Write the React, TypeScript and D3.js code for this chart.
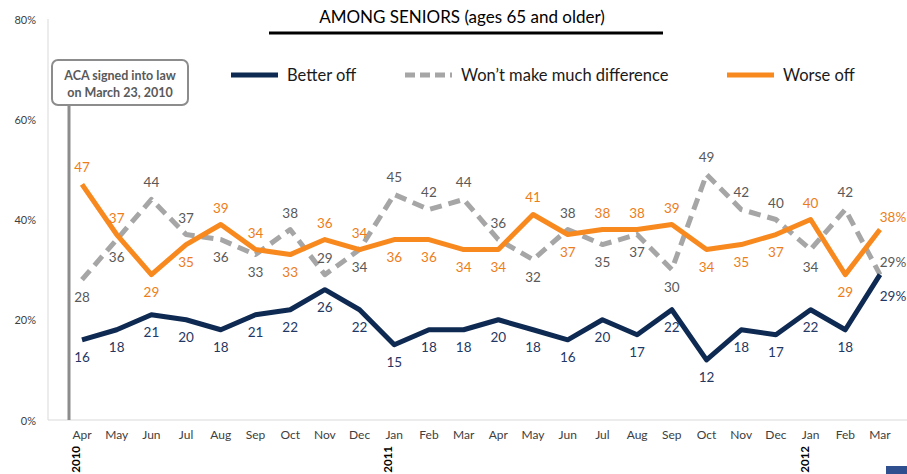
import { useEffect, useRef } from "react";
import * as d3 from "d3";

const months = ["Apr", "May", "Jun", "Jul", "Aug", "Sep", "Oct", "Nov", "Dec", "Jan", "Feb", "Mar",
  "Apr", "May", "Jun", "Jul", "Aug", "Sep", "Oct", "Nov", "Dec", "Jan", "Feb", "Mar"];
const years = [{ idx: 0, label: "2010" }, { idx: 9, label: "2011" }, { idx: 21, label: "2012" }];
const betterOff = [16, 18, 21, 20, 18, 21, 22, 26, 22, 15, 18, 18, 20, 18, 16, 20, 17, 22, 12, 18, 17, 22, 18, 29];
const noDifference = [28, 36, 44, 37, 36, 33, 38, 29, 34, 45, 42, 44, 36, 32, 38, 35, 37, 30, 49, 42, 40, 34, 42, 29];
const worseOff = [47, 37, 29, 35, 39, 34, 33, 36, 34, 36, 36, 34, 34, 41, 37, 38, 38, 39, 34, 35, 37, 40, 29, 38];
// label placement: a = above, b = below
const betterPos = "bbbbbbbbbbbbbbbbbbbbbbbb";
const noDiffPos = "bbaabbaabaaaababbbaaabaa";
const worsePos = "aabbaabaabbbbabaaabbbaba";
const yTicks = [0, 20, 40, 60, 80];

const W = 907;
const H = 474;

export default function App() {
  const ref = useRef<SVGSVGElement>(null);

  useEffect(() => {
    const svg = d3.select(ref.current);
    svg.selectAll("*").remove();
    const font = "Lato, 'Open Sans', sans-serif";

    const x = d3.scalePoint<number>().domain(d3.range(months.length)).range([82, 880]);
    const y = d3.scaleLinear().domain([0, 80]).range([420, 19]);

    // axes
    svg.append("line").attr("x1", 48).attr("x2", 48).attr("y1", 19).attr("y2", 420)
      .attr("stroke", "#d9d9d9").attr("stroke-width", 1);
    svg.append("line").attr("x1", 48).attr("x2", W).attr("y1", 420).attr("y2", 420)
      .attr("stroke", "#d9d9d9").attr("stroke-width", 1);

    svg.append("g").selectAll("text").data(yTicks).join("text")
      .attr("x", 36).attr("y", (d) => y(d)).attr("text-anchor", "end")
      .attr("dominant-baseline", "central")
      .attr("font-family", font).attr("font-size", 11).attr("fill", "#404040")
      .text((d) => `${d}%`);

    svg.append("g").selectAll("text").data(months).join("text")
      .attr("x", (_, i) => x(i)!).attr("y", 434).attr("text-anchor", "middle")
      .attr("dominant-baseline", "central")
      .attr("font-family", font).attr("font-size", 12).attr("fill", "#404040")
      .text((d) => d);

    svg.append("g").selectAll("text").data(years).join("text")
      .attr("transform", (d) => `translate(${x(d.idx)! - 2},446) rotate(-90)`)
      .attr("text-anchor", "end")
      .attr("font-family", font).attr("font-size", 11.5).attr("font-weight", "bold").attr("fill", "#000")
      .text((d) => d.label);

    // title
    svg.append("text").attr("x", 462).attr("y", 16).attr("text-anchor", "middle")
      .attr("dominant-baseline", "central")
      .attr("font-family", font).attr("font-size", 17).attr("fill", "#000")
      .text("AMONG SENIORS (ages 65 and older)");
    svg.append("line").attr("x1", 269).attr("x2", 663).attr("y1", 33).attr("y2", 33)
      .attr("stroke", "#000").attr("stroke-width", 3);

    // annotation
    svg.append("line").attr("x1", 69).attr("x2", 69).attr("y1", 105).attr("y2", 420)
      .attr("stroke", "#8c8c8c").attr("stroke-width", 3);
    svg.append("rect").attr("x", 52).attr("y", 60).attr("width", 136).attr("height", 45)
      .attr("rx", 6).attr("fill", "#fff").attr("stroke", "#8c8c8c").attr("stroke-width", 2);
    svg.append("text").attr("x", 120).attr("y", 75).attr("text-anchor", "middle")
      .attr("dominant-baseline", "central")
      .attr("font-family", font).attr("font-size", 12.5).attr("font-weight", "bold").attr("fill", "#595959")
      .text("ACA signed into law");
    svg.append("text").attr("x", 120).attr("y", 92).attr("text-anchor", "middle")
      .attr("dominant-baseline", "central")
      .attr("font-family", font).attr("font-size", 12.5).attr("font-weight", "bold").attr("fill", "#595959")
      .text("on March 23, 2010");

    const series = [
      { name: "Better off", values: betterOff, pos: betterPos, color: "#0e2a52", label: "#1f3864", dash: null, lx: 231 },
      { name: "Won\u2019t make much difference", values: noDifference, pos: noDiffPos, color: "#a6a6a6", label: "#595959", dash: "12,7", lx: 405 },
      { name: "Worse off", values: worseOff, pos: worsePos, color: "#f7891f", label: "#ed7d1a", dash: null, lx: 727 },
    ];

    const line = d3.line<number>().x((_, i) => x(i)!).y((d) => y(d));

    // draw grey first, then navy, then orange on top
    [series[1], series[0], series[2]].forEach((s) => {
      svg.append("path").datum(s.values).attr("d", line).attr("fill", "none")
        .attr("stroke", s.color).attr("stroke-width", 5)
        .attr("stroke-dasharray", s.dash)
        .attr("stroke-linejoin", "round");
    });

    series.forEach((s) => {
      const last = s.values.length - 1;
      svg.append("g").selectAll("text").data(s.values).join("text")
        .attr("x", (_, i) => (i === last ? x(i)! + 13 : x(i)!))
        .attr("y", (d, i) => y(d) + (s.pos[i] === "a" ? -17 : 17) + (i === last ? 4 : 0))
        .attr("text-anchor", "middle").attr("dominant-baseline", "central")
        .attr("font-family", font).attr("font-size", 13.5).attr("fill", s.label)
        .text((d, i) => (i === last ? `${d}%` : `${d}`));

      svg.append("line").attr("x1", s.lx).attr("x2", s.lx + 47).attr("y1", 75).attr("y2", 75)
        .attr("stroke", s.color).attr("stroke-width", 5).attr("stroke-dasharray", s.dash ? "10,5" : null);
      svg.append("text").attr("x", s.lx + 56).attr("y", 75).attr("dominant-baseline", "central")
        .attr("font-family", font).attr("font-size", 16.5).attr("fill", "#1a1a1a")
        .text(s.name);
    });

    svg.append("rect").attr("x", 886).attr("y", 466).attr("width", 21).attr("height", 8).attr("fill", "#2f4f8f");
  }, []);

  return (
    <svg
      ref={ref}
      width={W}
      height={H}
      style={{ position: "absolute", left: 0, top: 0, background: "#fff" }}
    />
  );
}
